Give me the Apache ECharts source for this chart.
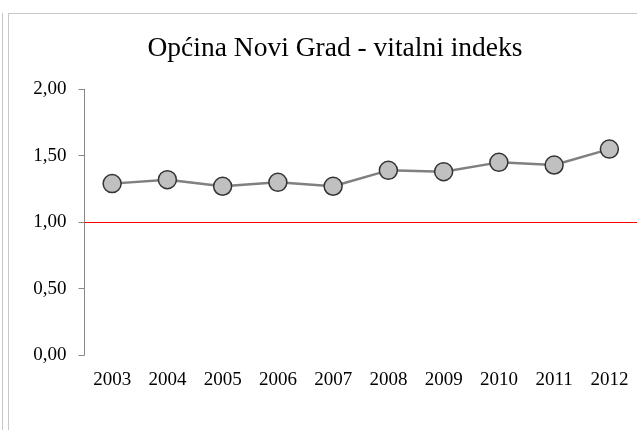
<!DOCTYPE html>
<html>
<head>
<meta charset="utf-8">
<script src="https://cdn.jsdelivr.net/npm/echarts@6/dist/echarts.min.js"></script>
<style>
html,body{margin:0;padding:0;background:#fff;}
#chart{width:637px;height:430px;}
</style>
</head>
<body>
<div id="chart"></div>
<script>
var titleText = 'Općina Novi Grad - vitalni indeks';
var years = ['2003','2004','2005','2006','2007','2008','2009','2010','2011','2012'];
var vitalIndex = [1.29, 1.32, 1.27, 1.30, 1.27, 1.39, 1.38, 1.45, 1.43, 1.55];
var referenceValue = 1.00;
var yTicks = [0, 0.5, 1, 1.5, 2];

var chart = echarts.init(document.getElementById('chart'), null, {renderer:'canvas'});
var serif = '"Liberation Serif", "Times New Roman", serif';
chart.setOption({
  animation:false,
  backgroundColor:'#ffffff',
  title:{
    text:titleText,
    left:330, textAlign:'center',
    top:30,
    textStyle:{fontFamily:serif,fontSize:27.5,fontWeight:'normal',color:'#000'}
  },
  graphic:[
    {type:'line',shape:{x1:2.5,y1:13,x2:2.5,y2:430},style:{stroke:'#c8c8c8',lineWidth:1}},
    {type:'line',shape:{x1:8.5,y1:13,x2:8.5,y2:430},style:{stroke:'#c8c8c8',lineWidth:1}},
    {type:'line',shape:{x1:8.5,y1:13.5,x2:637,y2:13.5},style:{stroke:'#c8c8c8',lineWidth:1}}
  ],
  grid:{left:84.5,top:89.3,width:554,height:265.7,containLabel:false},
  xAxis:{
    type:'category',
    data:years,
    boundaryGap:true,
    axisLine:{show:false},
    axisTick:{show:false},
    axisLabel:{fontFamily:serif,fontSize:19,color:'#000',margin:16,interval:0}
  },
  yAxis:{
    type:'value',
    min:yTicks[0], max:yTicks[yTicks.length-1], interval:0.5,
    axisLine:{show:true,lineStyle:{color:'#888888',width:1}},
    axisTick:{show:true,length:6,lineStyle:{color:'#888888'}},
    splitLine:{show:false},
    axisLabel:{fontFamily:serif,fontSize:19,color:'#000',margin:18,
      formatter:function(v){return v.toFixed(2).replace('.',',');}}
  },
  series:[{
    type:'line',
    data:vitalIndex,
    symbol:'circle',
    symbolSize:18,
    lineStyle:{color:'#808080',width:2.5},
    itemStyle:{color:'#c0c0c0',borderColor:'#333333',borderWidth:1.5},
    z:3,
    markLine:{
      silent:true,
      symbol:['none','none'],
      label:{show:false},
      lineStyle:{color:'#ff0000',width:1.2,type:'solid'},
      data:[{yAxis:referenceValue}],
      z:2
    }
  }]
});
</script>
</body>
</html>
